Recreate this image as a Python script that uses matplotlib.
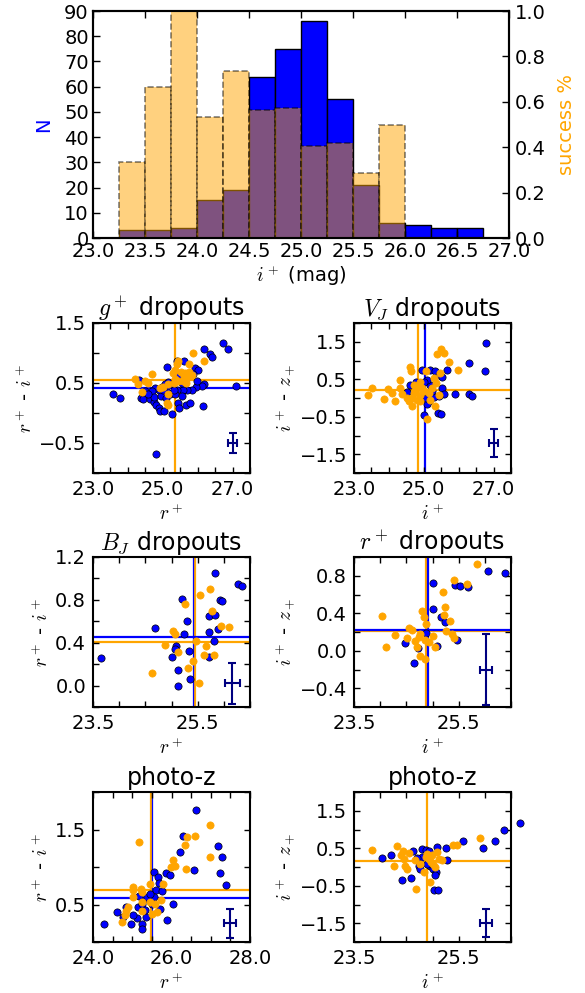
import numpy as np
import matplotlib
matplotlib.use("Agg")
import matplotlib.pyplot as plt

plt.rcParams['font.family'] = ['DejaVu Sans']
plt.rcParams['mathtext.fontset'] = 'cm'
plt.rcParams['font.size'] = 14
plt.rcParams['axes.linewidth'] = 1.5
plt.rcParams['axes.unicode_minus'] = True

# ---------------- histogram data ----------------
bin_edges = [23.25, 23.5, 23.75, 24.0, 24.25, 24.5, 24.75, 25.0, 25.25, 25.5,
             25.75, 26.0, 26.25, 26.5, 26.75]
counts_N = [3, 3, 4, 15, 19, 64, 75, 86, 55, 21, 6, 5, 4, 4]
success = [0.333, 0.667, 1.0, 0.533, 0.737, 0.5625, 0.573, 0.407, 0.418,
           0.286, 0.5, 0.0, 0.0, 0.0]

# ---------------- scatter data ----------------
p1_blue_x = [23.57, 23.76, 26.73, 26.88, 26.17, 26.35, 26.41, 25.61, 25.42, 25.13, 25.93, 26.01, 25.87, 26.17,
             26.11, 25.95, 25.84, 25.69, 25.57, 25.42, 25.26, 25.16, 25.06, 24.97, 24.88, 24.77, 24.68, 24.49,
             24.37, 24.42, 24.63, 24.76, 24.80, 24.89, 24.91, 25.04, 24.76, 24.95, 25.09, 25.22, 25.26, 25.45,
             25.46, 25.66, 25.78, 26.14, 24.80, 24.33, 25.45, 25.55, 25.98, 25.36, 25.12, 25.55, 24.59, 25.02,
             25.31, 27.10]
p1_blue_y = [0.31, 0.25, 1.17, 1.07, 1.06, 0.99, 0.94, 0.86, 0.86, 0.77, 0.75, 0.71, 0.65, 0.49,
             0.45, 0.43, 0.39, 0.38, 0.38, 0.38, 0.48, 0.52, 0.48, 0.44, 0.39, 0.41, 0.37, 0.36,
             0.25, 0.23, 0.23, 0.19, 0.13, 0.09, 0.04, 0.04, 0.27, 0.29, 0.25, 0.31, -0.01, 0.17,
             0.08, 0.13, 0.16, 0.11, -0.68, 0.55, 0.63, 0.50, 0.53, 0.31, 0.35, 0.28, 0.31, 0.39,
             0.39, 0.45]
p1_orange_x = [25.87, 26.17, 25.74, 25.45, 25.41, 25.36, 25.52, 25.64, 25.74, 25.84, 25.69, 25.58, 25.45, 25.36,
               25.16, 24.70, 24.20, 24.28, 24.49, 24.59, 24.41, 24.92, 25.02, 25.12, 25.16, 25.16, 25.67, 25.29,
               25.60, 25.31]
p1_orange_y = [1.00, 0.86, 0.81, 0.87, 0.81, 0.72, 0.69, 0.67, 0.68, 0.64, 0.58, 0.53, 0.54, 0.56,
               0.49, 0.65, 0.56, 0.49, 0.53, 0.50, 0.35, 0.42, 0.43, 0.17, 0.14, 0.32, 0.50, 0.67,
               0.61, 0.50]

p2_blue_x = [24.60, 24.95, 25.17, 25.31, 25.43, 25.51, 25.67, 25.51, 25.58, 25.89, 25.43, 25.29, 25.14, 25.10,
             25.00, 25.40, 25.50, 25.19, 25.10, 25.00, 24.79, 24.52, 25.05, 25.24, 26.78, 26.76, 26.29, 26.31,
             26.37]
p2_blue_y = [0.36, 0.74, 0.76, 0.71, 0.62, 0.55, 0.76, 0.28, 0.11, 0.11, 0.06, 0.03, -0.09, -0.16,
             -0.46, -0.40, -0.43, 0.36, 0.49, 0.44, 0.44, 0.15, 0.00, 0.18, 1.46, 0.72, 0.94, 0.10,
             0.05]
p2_orange_x = [23.41, 23.53, 23.85, 23.97, 24.09, 24.18, 24.33, 24.33, 24.38, 24.60, 24.62, 24.52, 24.57, 24.65,
               24.66, 24.73, 24.81, 24.86, 24.90, 24.95, 25.00, 24.90, 24.81, 24.88, 25.05, 25.10, 25.29, 25.34,
               25.24, 25.37, 25.50, 25.58, 25.72, 25.46, 25.43, 25.31, 25.99, 25.19, 25.14, 24.71]
p2_orange_y = [0.09, 0.28, -0.03, 0.25, 0.13, -0.09, 0.28, 0.49, 0.11, 0.82, 0.73, 0.00, -0.09, -0.20,
               0.00, 0.13, 0.27, 0.36, 0.42, 0.27, 0.18, 0.09, -0.04, -0.09, 0.71, -0.56, 0.53, 0.40,
               0.27, 1.17, 1.31, 1.20, 0.95, 0.68, 0.07, -0.20, 0.74, -0.04, 0.13, 0.36]

p3_blue_x = [23.65, 24.68, 25.20, 25.29, 25.24, 25.09, 25.07, 25.01, 25.12, 25.13, 25.35, 25.34, 25.84, 25.71,
             25.84, 25.92, 25.97, 25.72, 25.89, 25.82, 25.71, 26.28, 26.35]
p3_blue_y = [0.26, 0.54, 0.81, 0.60, 0.48, 0.37, 0.34, 0.27, 0.15, 0.00, 0.06, 0.32, 1.05, 0.65,
             0.66, 0.80, 0.79, 0.50, 0.53, 0.42, 0.27, 0.95, 0.93]
p3_orange_x = [24.63, 24.87, 25.03, 25.07, 25.13, 25.26, 25.31, 25.42, 25.46, 25.52, 25.55, 25.73, 25.65, 25.62,
               25.78, 25.81, 25.94, 26.10]
p3_orange_y = [0.12, 0.38, 0.51, 0.48, 0.31, 0.76, 0.16, 0.23, 0.42, 0.02, 0.85, 0.90, 0.37, 0.29,
               0.70, 0.29, 0.56, 0.55]

p4_blue_x = [25.00, 25.01, 25.17, 25.23, 25.43, 25.52, 25.46, 24.48, 24.72, 24.65, 25.08, 24.87, 26.39, 26.07,
             25.67]
p4_blue_y = [0.72, 0.45, 0.36, 0.31, 0.70, 0.69, 0.12, 0.08, 0.03, -0.13, 0.05, 0.19, 0.83, 0.85,
             0.68]
p4_orange_x = [24.03, 24.12, 24.28, 24.51, 24.56, 24.61, 24.67, 24.74, 24.77, 24.70, 24.77, 24.85, 24.80, 24.83,
               24.87, 24.85, 24.93, 25.01, 25.04, 25.20, 25.24, 25.22, 25.33, 25.25, 25.37, 25.41, 25.41, 25.85,
               25.65]
p4_orange_y = [0.37, 0.04, 0.17, 0.14, 0.24, 0.22, 0.10, 0.15, 0.18, 0.04, -0.06, -0.09, 0.42, 0.36,
               0.29, 0.11, 0.09, 0.16, 0.04, 0.63, 0.47, 0.38, 0.32, 0.21, 0.18, 0.14, 0.76, 0.93,
               0.71]

p5_blue_x = [24.28, 24.62, 24.77, 24.85, 24.98, 25.11, 25.15, 25.24, 25.18, 25.26, 25.26, 25.34, 25.43, 25.37,
             25.32, 25.56, 25.65, 25.68, 25.61, 25.75, 25.56, 25.71, 25.88, 26.03, 25.85, 25.95, 26.22, 26.29,
             26.58, 26.62, 27.19, 27.29, 27.23, 27.38, 25.03, 25.44, 25.50]
p5_blue_y = [0.24, 0.40, 0.33, 0.47, 0.24, 0.32, 0.47, 0.51, 0.62, 0.24, 0.18, 0.34, 0.56, 0.60,
             0.43, 0.93, 0.87, 0.79, 0.69, 0.68, 0.60, 0.44, 0.29, 0.51, 0.92, 0.89, 1.20, 1.42,
             0.96, 1.76, 1.28, 1.13, 0.92, 0.76, 0.36, 0.64, 0.51]
p5_orange_x = [25.18, 24.73, 24.81, 24.90, 24.85, 25.03, 25.03, 25.22, 25.24, 25.03, 25.24, 25.26, 25.45, 25.45,
               25.58, 25.74, 25.79, 26.05, 26.08, 25.99, 26.35, 26.39, 26.59, 26.38, 26.99, 26.98, 25.62, 25.50]
p5_orange_y = [1.34, 0.27, 0.36, 0.47, 0.42, 0.74, 0.69, 0.71, 0.67, 0.60, 0.53, 0.42, 0.78, 0.53,
               0.51, 0.56, 0.78, 1.10, 1.02, 1.00, 1.29, 1.40, 1.42, 0.98, 1.56, 1.13, 0.40, 0.38]

p6_blue_x = [24.04, 24.21, 24.42, 24.59, 24.62, 24.80, 24.87, 24.93, 24.80, 24.71, 24.74, 24.77, 24.96, 25.01,
             25.06, 25.04, 25.08, 25.25, 25.28, 25.03, 25.11, 25.59, 24.90, 25.96, 26.20, 26.36, 26.68]
p6_blue_y = [0.25, 0.32, -0.34, -0.29, 0.43, 0.49, 0.46, 0.44, 0.28, 0.25, 0.02, -0.04, 0.03, -0.06,
             -0.13, -0.22, 0.53, 0.52, 0.18, -0.62, -0.60, 0.69, 0.07, 0.51, 0.69, 0.99, 1.18]
p6_orange_x = [23.85, 24.32, 24.27, 24.40, 24.44, 24.45, 24.48, 24.51, 24.56, 24.66, 24.68, 24.77, 24.83, 24.87,
               24.90, 24.93, 24.95, 24.97, 25.01, 25.09, 25.12, 25.19, 24.99, 25.40, 25.46, 25.04, 25.91]
p6_orange_y = [0.46, 0.55, 0.04, 0.31, 0.44, 0.22, 0.04, -0.04, 0.37, 0.18, -0.58, 0.07, -0.13, 0.27,
               0.36, 0.22, -0.40, 0.13, 0.09, 0.40, 0.22, 0.20, 0.31, 0.58, 0.58, 0.00, 0.77]

# median lines (blue v, blue h, orange v, orange h); None = not drawn
p_lines = [
    dict(bv=None, bh=0.42, ov=25.36, oh=0.555),
    dict(bv=25.04, bh=None, ov=24.84, oh=0.22),
    dict(bv=25.41, bh=0.455, ov=25.44, oh=0.405),
    dict(bv=24.92, bh=0.225, ov=24.88, oh=0.21),
    dict(bv=25.51, bh=0.59, ov=25.48, oh=0.70),
    dict(bv=None, bh=None, ov=24.90, oh=0.17),
]
# typical error bar (x, y, xerr, yerr)
p_err = [
    (27.0, -0.5, 0.12, 0.17),
    (27.0, -1.2, 0.13, 0.38),
    (26.16, 0.02, 0.14, 0.19),
    (26.02, -0.2, 0.12, 0.38),
    (27.5, 0.25, 0.15, 0.19),
    (26.02, -1.5, 0.12, 0.37),
]
titles = [r'$g^+$ dropouts', r'$V_J$ dropouts', r'$B_J$ dropouts', r'$r^+$ dropouts', 'photo-z', 'photo-z']
xlabels = [r'$r^+$', r'$i^+$', r'$r^+$', r'$i^+$', r'$r^+$', r'$i^+$']
ylabels = [r'$r^+$ - $i^+$', r'$i^+$ - $z_+$', r'$r^+$ - $i^+$', r'$i^+$ - $z_+$', r'$r^+$ - $i^+$', r'$i^+$ - $z_+$']
# axis ranges: (lo, hi, tick step, labelled ticks)
p_xaxis = [
    (23.0, 27.5, 0.5, [23.0, 25.0, 27.0]),
    (23.0, 27.5, 0.5, [23.0, 25.0, 27.0]),
    (23.5, 26.5, 0.5, [23.5, 25.5]),
    (23.5, 26.5, 0.5, [23.5, 25.5]),
    (24.0, 28.0, 0.5, [24.0, 26.0, 28.0]),
    (23.5, 26.5, 0.5, [23.5, 25.5]),
]
p_yaxis = [
    (-1.0, 1.5, 0.5, [-0.5, 0.5, 1.5]),
    (-2.0, 2.0, 0.5, [-1.5, -0.5, 0.5, 1.5]),
    (-0.2, 1.2, 0.2, [0.0, 0.4, 0.8, 1.2]),
    (-0.6, 1.0, 0.2, [-0.4, 0.0, 0.4, 0.8]),
    (0.0, 2.0, 0.5, [0.5, 1.5]),
    (-2.0, 2.0, 0.5, [-1.5, -0.5, 0.5, 1.5]),
]
blue_pts = [(p1_blue_x, p1_blue_y), (p2_blue_x, p2_blue_y), (p3_blue_x, p3_blue_y),
            (p4_blue_x, p4_blue_y), (p5_blue_x, p5_blue_y), (p6_blue_x, p6_blue_y)]
orange_pts = [(p1_orange_x, p1_orange_y), (p2_orange_x, p2_orange_y), (p3_orange_x, p3_orange_y),
              (p4_orange_x, p4_orange_y), (p5_orange_x, p5_orange_y), (p6_orange_x, p6_orange_y)]

BLUE = '#0000ff'
ORANGE = '#ffa500'

fig = plt.figure(figsize=(5.85, 9.93), dpi=100)

# ---------------- histogram ----------------
W, H = 585.0, 993.0
axh = fig.add_axes([93 / W, 1 - 238 / H, 416 / W, 227 / H])
lefts = bin_edges[:-1]
widths = np.diff(bin_edges)
axh.bar(lefts, counts_N, width=widths, align='edge', color=BLUE, edgecolor='black', linewidth=1.0)
axh.set_xlim(23.0, 27.0)
axh.set_ylim(0, 90)
axh.set_xticks(np.arange(23.0, 27.01, 0.5))
axh.set_xticklabels(['%.1f' % v for v in np.arange(23.0, 27.01, 0.5)])
axh.set_yticks(np.arange(0, 91, 10))
axh.set_ylabel('N', color=BLUE, labelpad=8)
axh.set_xlabel(r'$i^+$ (mag)', labelpad=2)
axh.tick_params(direction='in', length=5, width=1, top=True, right=False, pad=3)

axs = axh.twinx()
axs.bar(lefts, success, width=widths, align='edge', color=ORANGE, edgecolor='black',
        linewidth=1.2, linestyle='--', alpha=0.5)
axs.set_ylim(0, 1.0)
axs.set_yticks(np.arange(0, 1.01, 0.2))
axs.set_yticklabels(['%.1f' % v for v in np.arange(0, 1.01, 0.2)])
axs.set_ylabel('success %', color=ORANGE, labelpad=8)
axs.tick_params(direction='in', length=5, width=1, pad=4)


def fmt(v):
    s = '%.1f' % v
    if s == '-0.0':
        s = '0.0'
    return s.replace('-', '\u2212')


def set_axis(ax, which, spec):
    lo, hi, step, labelled = spec
    ticks = np.round(np.arange(lo, hi + step / 2, step), 4)
    labels = [fmt(t) if any(abs(t - l) < 1e-6 for l in labelled) else '' for t in ticks]
    if which == 'x':
        ax.set_xlim(lo, hi)
        ax.set_xticks(ticks)
        ax.set_xticklabels(labels)
    else:
        ax.set_ylim(lo, hi)
        ax.set_yticks(ticks)
        ax.set_yticklabels(labels)


col_x = [93 / W, 354 / W]
row_top = [323, 557, 792]
pw, ph = 157 / W, 150 / H

for k in range(6):
    r, c = divmod(k, 2)
    ax = fig.add_axes([col_x[c], 1 - (row_top[r] + 150) / H, pw, ph])
    set_axis(ax, 'x', p_xaxis[k])
    set_axis(ax, 'y', p_yaxis[k])
    ln = p_lines[k]
    thin_bv = k in (2, 4)
    if ln['oh'] is not None:
        ax.axhline(ln['oh'], color=ORANGE, lw=1.6, zorder=1)
    if ln['ov'] is not None:
        ax.axvline(ln['ov'], color=ORANGE, lw=1.6, zorder=1)
    if ln['bh'] is not None:
        ax.axhline(ln['bh'], color=BLUE, lw=1.6, zorder=1)
    if ln['bv'] is not None:
        ax.axvline(ln['bv'], color=BLUE, lw=0.9 if thin_bv else 1.6, zorder=1)
    bx, by = blue_pts[k]
    ox, oy = orange_pts[k]
    ax.scatter(bx, by, s=27, c=BLUE, edgecolors='black', linewidths=0.5, zorder=3, clip_on=False)
    ax.scatter(ox, oy, s=27, c=ORANGE, edgecolors=ORANGE, linewidths=0.5, zorder=4, clip_on=False)
    ex, ey, exe, eye = p_err[k]
    ax.errorbar([ex], [ey], xerr=[exe], yerr=[eye], fmt='none', ecolor='#000080',
                elinewidth=1.5, capsize=3, capthick=1.5, zorder=5)
    ax.set_title(titles[k], fontsize=17, pad=5)
    ax.set_xlabel(xlabels[k], labelpad=3)
    ax.set_ylabel(ylabels[k], labelpad=2)
    ax.tick_params(direction='in', length=4, width=1, top=True, right=True, pad=5)

fig.savefig('out.png', dpi=100)
